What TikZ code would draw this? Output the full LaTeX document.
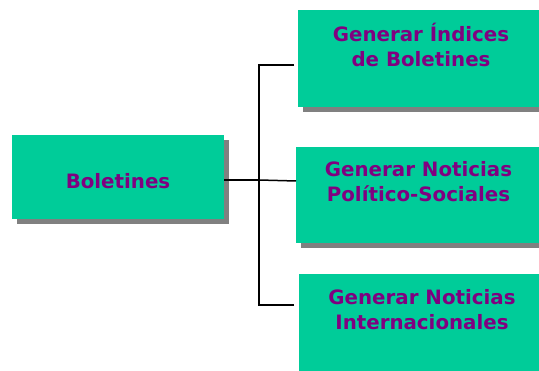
\documentclass[tikz,border=0pt]{standalone}
\usepackage{fontspec}
\setmainfont{DejaVu Sans}
\usetikzlibrary{shadows}
\definecolor{boxgreen}{RGB}{0,204,153}
\definecolor{txtpurple}{RGB}{128,0,128}
\definecolor{shadowgray}{RGB}{128,128,128}
\tikzset{
  box/.style={fill=boxgreen, draw=none, inner sep=0pt,
    drop shadow={shadow xshift=5pt, shadow yshift=-5pt, fill=shadowgray, opacity=1}},
  lbl/.style={text=txtpurple, font=\fontsize{19.8}{25}\selectfont\bfseries, align=center, inner sep=0pt},
  conn/.style={draw=black, line width=1.5pt}
}
\begin{document}
\begin{tikzpicture}[x=1pt,y=1pt]
\useasboundingbox (0,0) rectangle (539,-371);
\clip (0,0) rectangle (539,-371);
\fill[white] (0,0) rectangle (539,-371);
% boxes
\node[box, minimum width=212pt, minimum height=84pt] (L) at (118,-177) {};
\node[box, minimum width=250pt, minimum height=97pt, anchor=north west] (R1) at (298,-10) {};
\node[box, minimum width=250pt, minimum height=96pt, anchor=north west] (R2) at (296,-147) {};
\node[box, minimum width=250pt, minimum height=110pt, anchor=north west] (R3) at (299,-274) {};
% texts
\node[lbl] (tL) at (118,-181) {Boletines};
\node[lbl, anchor=north] (t1) at (421,-22.5) {Generar Índices\\de Boletines};
\node[lbl, anchor=north] (t2) at (418.5,-161) {Generar Noticias\\Político-Sociales};
\node[lbl, anchor=north] (t3) at (422,-289) {Generar Noticias\\Internacionales};
% connectors
\coordinate (j) at (259,-180);
\coordinate (s1) at (294,-65);
\coordinate (s2) at (296,-181);
\coordinate (s3) at (294,-305);
\draw[conn] (L.east |- j) -- (j);
\draw[conn] (s1) -| (j);
\draw[conn] (s3) -| (j);
\draw[conn] (j) -- (s2);
\end{tikzpicture}
\end{document}
